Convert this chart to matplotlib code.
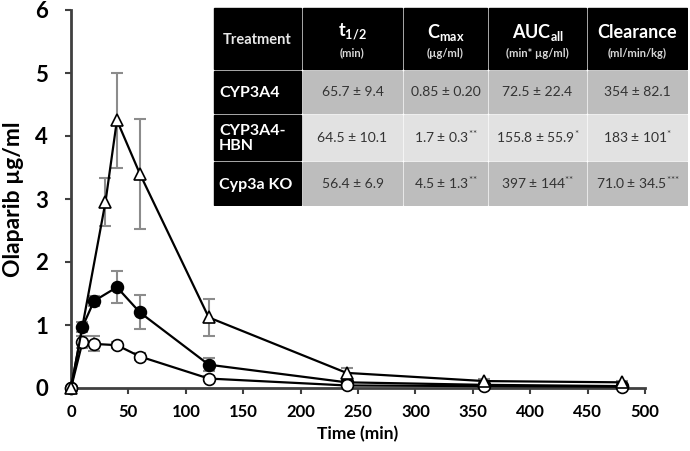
"""
plot.py
Olaparib plasma concentration over time, with PK summary table.
"""
import matplotlib.pyplot as plt
from matplotlib.patches import Rectangle

# time course data (min, ug/ml)
time_cyp3a4 = [0, 10, 20, 40, 60, 120, 240, 360, 480]
conc_cyp3a4 = [0, 0.73, 0.70, 0.68, 0.50, 0.15, 0.04, 0.03, 0.02]
err_cyp3a4 = [0, 0.10, 0.12, 0.05, 0.06, 0.04, 0.01, 0.01, 0.01]

time_hbn = [0, 10, 20, 40, 60, 120, 240, 360, 480]
conc_hbn = [0, 0.97, 1.38, 1.60, 1.20, 0.37, 0.09, 0.05, 0.03]
err_hbn = [0, 0.08, 0.08, 0.25, 0.27, 0.10, 0.03, 0.01, 0.01]

time_ko = [0, 30, 40, 60, 120, 240, 360, 480]
conc_ko = [0, 2.95, 4.25, 3.40, 1.12, 0.24, 0.11, 0.09]
err_ko = [0, 0.38, 0.75, 0.87, 0.30, 0.08, 0.03, 0.02]

# PK table
table_header = ["Treatment", "t$_{1/2}$", "C$_{max}$", "AUC$_{all}$", "Clearance"]
table_units = ["", "(min)", "(\u00b5g/ml)", "(min* \u00b5g/ml)", "(ml/min/kg)"]
table_rows = ["CYP3A4", "CYP3A4-\nHBN", "Cyp3a KO"]
table_values = [
    ["65.7 \u00b1 9.4", "0.85 \u00b1 0.20", "72.5 \u00b1 22.4", "354 \u00b1 82.1"],
    ["64.5 \u00b1 10.1", "1.7 \u00b1 0.3$^{{*}{*}}$", "155.8 \u00b1 55.9$^{{*}}$",
     "183 \u00b1 101$^{{*}}$"],
    ["56.4 \u00b1 6.9", "4.5 \u00b1 1.3$^{{*}{*}}$", "397 \u00b1 144$^{{*}{*}}$",
     "71.0 \u00b1 34.5$^{{*}{*}{*}}$"],
]

plt.rcParams["font.family"] = ["Lato", "DejaVu Sans"]
plt.rcParams["mathtext.default"] = "regular"

fig = plt.figure(figsize=(6.9, 4.51), dpi=100)
ax = fig.add_axes([71 / 690, 1 - 388 / 451, 574 / 690, 378 / 451])

series = [
    (time_hbn, conc_hbn, err_hbn, "o", "black"),
    (time_cyp3a4, conc_cyp3a4, err_cyp3a4, "o", "white"),
    (time_ko, conc_ko, err_ko, "^", "white"),
]
for t, c, e, m, fc in series:
    ax.errorbar(t, c, yerr=e, fmt="none", ecolor="#8c8c8c", elinewidth=1.5,
                capsize=4, capthick=1.5, zorder=2)
for t, c, e, m, fc in series:
    ax.plot(t, c, color="black", lw=1.6, marker=m, markersize=8.5,
            markerfacecolor=fc, markeredgecolor="black", markeredgewidth=1.2,
            zorder=3, clip_on=False)

ax.set_xlim(0, 500)
ax.set_ylim(0, 6)
ax.set_xticks(range(0, 501, 50))
ax.set_yticks(range(0, 7))
for side in ["top", "right"]:
    ax.spines[side].set_visible(False)
for side in ["left", "bottom"]:
    ax.spines[side].set_color("#404040")
    ax.spines[side].set_linewidth(2)
ax.tick_params(axis="both", direction="out", color="#404040", width=1.5,
               length=4.5)
ax.tick_params(axis="x", labelsize=12, pad=7)
ax.tick_params(axis="y", labelsize=16, pad=12)
for lab in ax.get_xticklabels() + ax.get_yticklabels():
    lab.set_fontweight("bold")
ax.set_xlabel("Time (min)", fontsize=12.5, fontweight="bold", labelpad=4)
ax.set_ylabel("Olaparib \u00b5g/ml", fontsize=16.5, fontweight="bold",
              labelpad=8)

# table drawn in pixel space
tax = fig.add_axes([213 / 690, 1 - 206 / 451, 475 / 690, 199 / 451])
tax.set_xlim(213, 688)
tax.set_ylim(206, 7)
tax.axis("off")

col_edges = [213, 302, 403, 488, 587, 688]
row_edges = [7, 70, 114, 161, 206]
row_colors = ["#bdbdbd", "#e2e2e2", "#bdbdbd"]
gap = 1.2

for j in range(5):
    x0, x1 = col_edges[j], col_edges[j + 1]
    y0, y1 = row_edges[0], row_edges[1]
    tax.add_patch(Rectangle((x0 + gap, y0 + gap), x1 - x0 - 2 * gap,
                            y1 - y0 - 2 * gap, color="black"))
    xc = (x0 + x1) / 2
    if j == 0:
        tax.text(xc, (y0 + y1) / 2 + 1, table_header[j], color="#e8e8e8",
                 fontsize=10.5, fontweight="bold", ha="center", va="center")
    else:
        tax.text(xc, y0 + 25, table_header[j], color="white",
                 fontsize=13, fontweight="bold", ha="center", va="center")
        tax.text(xc, y0 + 46, table_units[j], color="#d8d8d8", fontsize=8,
                 fontweight="bold", ha="center", va="center")

for i in range(3):
    y0, y1 = row_edges[i + 1], row_edges[i + 2]
    yc = (y0 + y1) / 2
    for j in range(5):
        x0, x1 = col_edges[j], col_edges[j + 1]
        fc = "black" if j == 0 else row_colors[i]
        tax.add_patch(Rectangle((x0 + gap, y0 + gap), x1 - x0 - 2 * gap,
                                y1 - y0 - 2 * gap, color=fc))
        if j == 0:
            tax.text(x0 + 6, yc + 1, table_rows[i], color="white",
                     fontsize=11.5, fontweight="bold", ha="left", va="center",
                     linespacing=1.15)
        else:
            tax.text((x0 + x1) / 2, yc, table_values[i][j - 1],
                     color="#333333", fontsize=10, ha="center", va="center")

fig.savefig("out.png", dpi=100)
plt.close(fig)
